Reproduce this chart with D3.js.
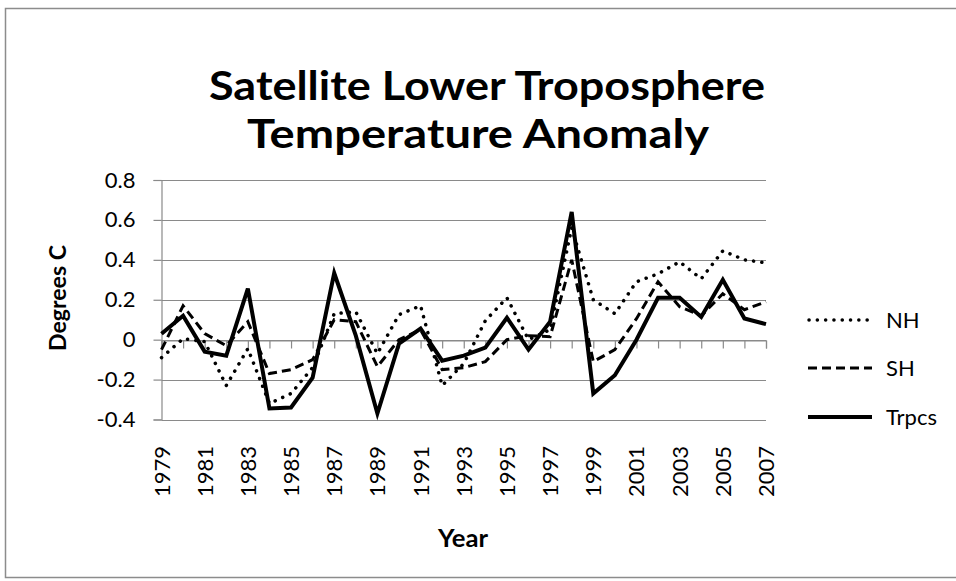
<!DOCTYPE html>
<html>
<head>
<meta charset="utf-8">
<script src="https://cdn.jsdelivr.net/npm/d3@7"></script>
<style>
  body { margin: 0; background: #fff; }
  text { font-family: Lato, "Open Sans", sans-serif; fill: #000; }
</style>
</head>
<body>
<div id="chart"></div>
<script>
var years = d3.range(1979, 2008);
var yTicks = [-0.4, -0.2, 0, 0.2, 0.4, 0.6, 0.8];
var yearLabels = years.filter((d, i) => i % 2 == 0);

var nh = [-0.09, 0.005, -0.01, -0.23, -0.045, -0.32, -0.27, -0.14, 0.13, 0.14,
    -0.07, 0.125, 0.17, -0.23, -0.12, 0.095, 0.21, 0.0, 0.05, 0.56,
    0.2, 0.13, 0.29, 0.33, 0.39, 0.305, 0.445, 0.4, 0.385];
var sh = [-0.05, 0.17, 0.03, -0.03, 0.09, -0.17, -0.15, -0.1, 0.1, 0.09,
    -0.135, 0.0, 0.05, -0.15, -0.14, -0.11, 0.0, 0.02, 0.015, 0.4,
    -0.11, -0.05, 0.105, 0.29, 0.165, 0.12, 0.23, 0.15, 0.19];
var trpcs = [0.03, 0.12, -0.06, -0.08, 0.256, -0.345, -0.34, -0.19, 0.334, 0.02,
    -0.37, -0.02, 0.056, -0.105, -0.08, -0.04, 0.11, -0.05, 0.09, 0.64,
    -0.27, -0.178, 0.0, 0.21, 0.21, 0.114, 0.3, 0.106, 0.078];

var series = [
    { name: "NH", values: nh, width: 3.5, dash: "0.1 8.2", cap: "round" },
    { name: "SH", values: sh, width: 3, dash: "9 5", cap: "butt" },
    { name: "Trpcs", values: trpcs, width: 4, dash: null, cap: "butt" }
];

var svg = d3.select("#chart").append("svg")
    .attr("width", 956)
    .attr("height", 581);

// outer frame
svg.append("rect")
    .attr("x", 5.5).attr("y", 8.5)
    .attr("width", 960).attr("height", 569)
    .attr("fill", "none").attr("stroke", "#8c8c8c").attr("stroke-width", 1.5);

var x = d3.scalePoint().domain(years).range([161.5, 766]);
var y = d3.scaleLinear().domain([-0.4, 0.8]).range([419.5, 180]);

// gridlines
svg.append("g")
    .selectAll("line")
    .data(yTicks).enter().append("line")
    .attr("x1", 161.5).attr("x2", 766)
    .attr("y1", d => Math.round(y(d)) + 0.5)
    .attr("y2", d => Math.round(y(d)) + 0.5)
    .attr("stroke", "#8a8a8a").attr("stroke-width", 1.2);

// y axis
var yAxis = svg.append("g")
    .attr("transform", "translate(" + 161.5 + ",0)")
    .call(d3.axisLeft(y).tickValues(yTicks).tickSize(8).tickPadding(18)
        .tickFormat(d => d == 0 ? "0" : d3.format(".1f")(d).replace("−", "-")));
yAxis.select(".domain").attr("stroke", "#8a8a8a").attr("stroke-width", 1.2);
yAxis.selectAll(".tick line").attr("stroke", "#8a8a8a").attr("stroke-width", 1.2);
yAxis.selectAll("text").attr("font-size", 22).attr("font-family", "Lato").attr("fill", "#000");

// x axis at zero
var xAxis = svg.append("g")
    .attr("transform", "translate(0," + (Math.round(y(0)) + 0.5) + ")")
    .call(d3.axisBottom(x).tickSize(8).tickFormat(""));
xAxis.select(".domain").attr("stroke", "#8a8a8a").attr("stroke-width", 1.2);
xAxis.selectAll(".tick line").attr("stroke", "#8a8a8a").attr("stroke-width", 1.2);

// year labels at the bottom
svg.append("g")
    .selectAll("text")
    .data(yearLabels).enter().append("text")
    .attr("transform", d => "translate(" + (x(d) + 8) + "," + 446 + ") rotate(-90)")
    .attr("text-anchor", "end")
    .attr("font-size", 22)
    .text(d => d);

// lines
var line = d3.line()
    .x((d, i) => x(years[i]))
    .y(d => y(d));

svg.append("g")
    .selectAll("path")
    .data(series).enter().append("path")
    .attr("d", s => line(s.values))
    .attr("fill", "none")
    .attr("stroke", "#000")
    .attr("stroke-width", s => s.width)
    .attr("stroke-dasharray", s => s.dash)
    .attr("stroke-linecap", s => s.cap)
    .attr("stroke-linejoin", "miter");

// legend
var legendY = [320, 368, 417];
var legend = svg.append("g")
    .selectAll("g")
    .data(series).enter().append("g")
    .attr("transform", (s, i) => "translate(0," + legendY[i] + ")");
legend.append("line")
    .attr("x1", s => s.cap == "round" ? 809 : 808).attr("x2", 872)
    .attr("stroke", "#000")
    .attr("stroke-width", s => s.width)
    .attr("stroke-dasharray", s => s.dash)
    .attr("stroke-linecap", s => s.cap);
legend.append("text")
    .attr("x", 886)
    .attr("dy", "0.36em")
    .attr("font-size", 22)
    .text(s => s.name);

// fit a text element to a width by scaling its font size
function fit(sel, width) {
    var w = sel.node().getComputedTextLength();
    var fs = +sel.attr("font-size");
    sel.attr("font-size", fs * width / w);
}

// title: Calibri-like narrow glyphs, squeezed to the reference width
svg.append("text")
    .attr("x", 487).attr("y", 100)
    .attr("text-anchor", "middle")
    .attr("font-weight", "bold")
    .attr("font-size", 40)
    .attr("textLength", 556)
    .attr("lengthAdjust", "spacingAndGlyphs")
    .text("Satellite Lower Troposphere");
svg.append("text")
    .attr("x", 478).attr("y", 148)
    .attr("text-anchor", "middle")
    .attr("font-weight", "bold")
    .attr("font-size", 40)
    .attr("textLength", 462)
    .attr("lengthAdjust", "spacingAndGlyphs")
    .text("Temperature Anomaly");

var yt = svg.append("text")
    .attr("transform", "translate(" + 66 + "," + 298 + ") rotate(-90)")
    .attr("text-anchor", "middle")
    .attr("font-weight", "bold")
    .attr("font-size", 22)
    .text("Degrees C");
fit(yt, 106);

var xt = svg.append("text")
    .attr("x", 463).attr("y", 547)
    .attr("text-anchor", "middle")
    .attr("font-weight", "bold")
    .attr("font-size", 22)
    .text("Year");
fit(xt, 50);
</script>
</body>
</html>
